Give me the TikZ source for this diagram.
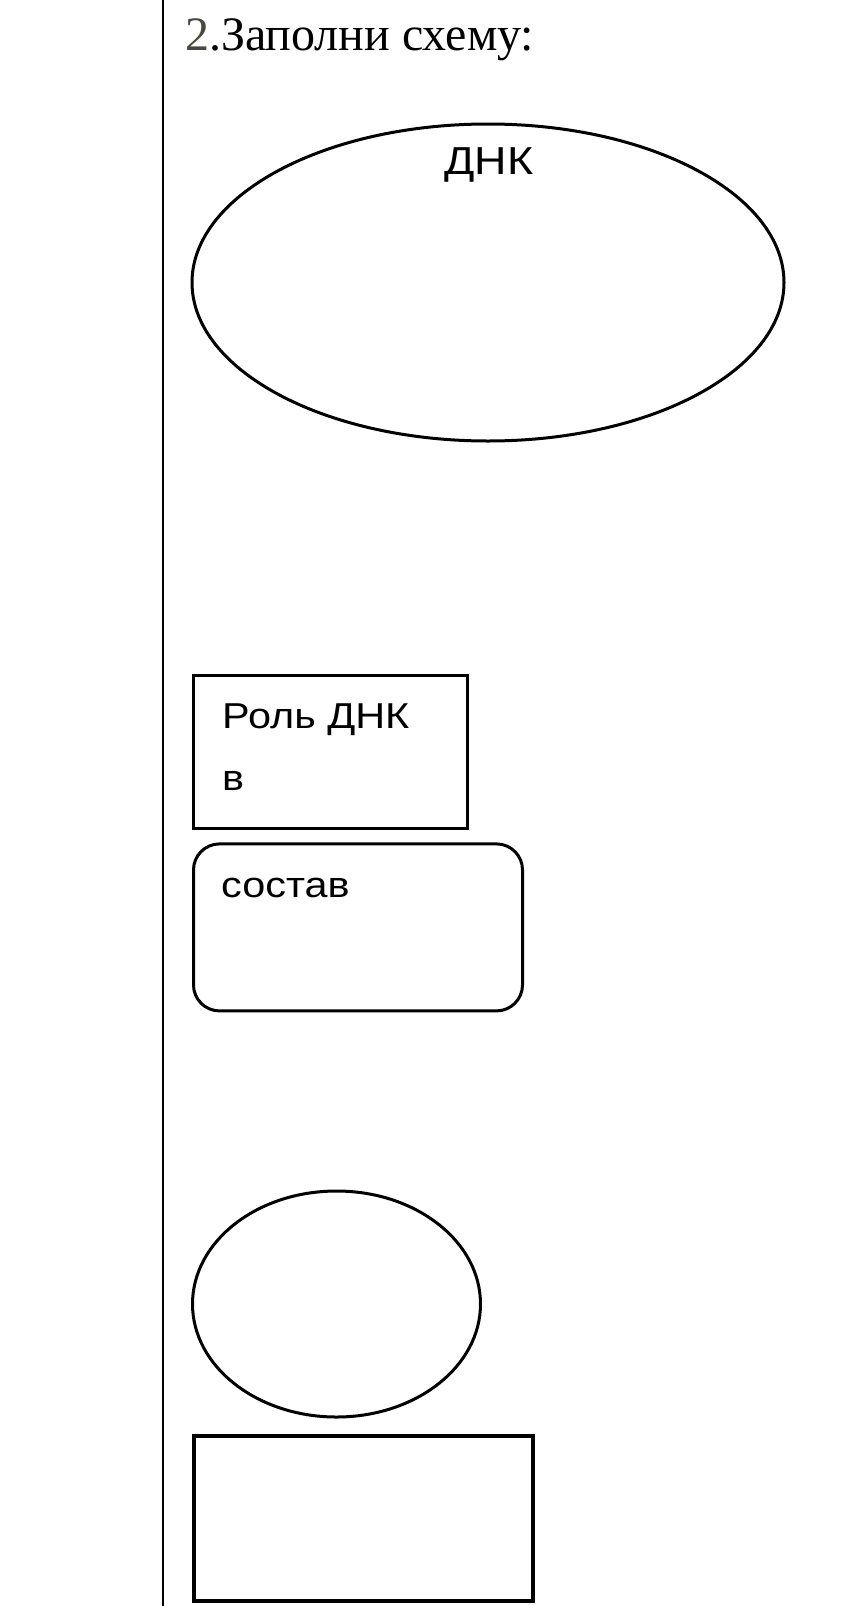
\documentclass[tikz,border=0pt]{standalone}
\usepackage{fontspec}
\setmainfont{Liberation Serif}
\newfontfamily\schemafont{Liberation Sans}[FakeStretch=1.15]
\usepackage{xcolor}
\usepackage{tikz}
\usetikzlibrary{shapes.geometric,positioning}
\definecolor{nummergrau}{RGB}{72,72,62}
\tikzset{
  oval/.style={ellipse, draw=black, line width=3pt, inner sep=0pt},
  kasten/.style={rectangle, draw=black, line width=3.4pt, inner sep=0pt, anchor=north west},
  rundkasten/.style={kasten, rounded corners=26pt, line width=3pt},
  schrift/.style={inner sep=0pt, anchor=base west, font=\schemafont\fontsize{36}{62}\selectfont, align=left},
  rand/.style={draw=black, line width=2pt}
}

\begin{document}
\begin{tikzpicture}[x=1pt, y=-1pt, node distance=15pt]
\useasboundingbox (0,0) rectangle (864,1606);

\coordinate (rand-o) at (163,0);
\coordinate (rand-u) at (163,1606);
\draw[rand] (rand-o) -- (rand-u);

\node[inner sep=0pt, anchor=base west, font=\fontsize{48}{58}\selectfont] (titel) at (185,50) {\textcolor{nummergrau}{2}.Заполни схему:};

\node[oval, minimum width=592pt, minimum height=317pt] (dnk) at (488,282.5) {};
\node[inner sep=0pt, anchor=base, font=\schemafont\fontsize{39}{44}\selectfont] (dnk-t) at (489,174) {ДНК};

\node[kasten, minimum width=274pt, minimum height=153pt] (rolle) at (192,674) {};
% die letzte Zeile liegt auf dem Anker
\node[schrift] (rolle-t) at (222,790) {Роль ДНК\\в};

\node[rundkasten, minimum width=329pt, minimum height=167pt, below=12pt of rolle.south west, anchor=north west] (bestand) {};
\node[schrift] (bestand-t) at (221,897) {состав};

\node[oval, minimum width=288pt, minimum height=226pt] (klein) at (336.5,1304) {};

\node[kasten, line width=3.8pt, minimum width=339pt, minimum height=165pt] (unten) at (192,1434) {};

\end{tikzpicture}
\end{document}
